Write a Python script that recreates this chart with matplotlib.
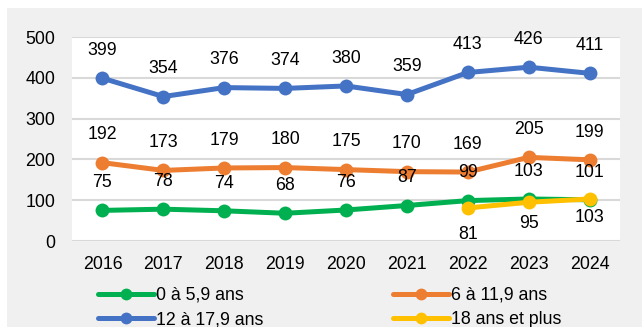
import numpy as np
import matplotlib
matplotlib.use("Agg")
import matplotlib.pyplot as plt
from matplotlib.patches import Rectangle

plt.rcParams['font.family'] = ['Liberation Sans', 'DejaVu Sans']

years = ["2016", "2017", "2018", "2019", "2020", "2021", "2022", "2023", "2024"]
age_0_5 = [75, 78, 74, 68, 76, 87, 99, 103, 101]
age_6_11 = [192, 173, 179, 180, 175, 170, 169, 205, 199]
age_12_17 = [399, 354, 376, 374, 380, 359, 413, 426, 411]
age_18_plus = [np.nan, np.nan, np.nan, np.nan, np.nan, np.nan, 81, 95, 103]
y_ticks = [0, 100, 200, 300, 400, 500]

W, H = 642, 327
fig = plt.figure(figsize=(W / 100, H / 100), dpi=100)
fig.patch.set_facecolor("white")
# light grey chart area
fig.add_artist(Rectangle((7 / W, 0), (W - 7) / W, (H - 8) / H,
                         transform=fig.transFigure, facecolor="#f0f0f0",
                         edgecolor="none", zorder=0))

ax = fig.add_axes([72 / W, (H - 241) / H, (620 - 72) / W, (241 - 37) / H])
ax.set_facecolor("white")
ax.set_zorder(1)

x = np.arange(len(years))
fs = 12.8
lw = 3.6
ms = 10

series = [
    ("0 à 5,9 ans", age_0_5, "#00b050", "above"),
    ("6 à 11,9 ans", age_6_11, "#ed7d31", "above"),
    ("12 à 17,9 ans", age_12_17, "#4472c4", "above"),
    ("18 ans et plus", age_18_plus, "#ffc000", "below"),
]
below_offsets = [-19, -15, -13]
lines = {}
for name, vals, col, pos in series:
    ln, = ax.plot(x, vals, color=col, lw=lw, marker="o", ms=ms, mew=0,
                  solid_capstyle="round", label=name, zorder=3, clip_on=False)
    lines[name] = ln

# value labels
for name, vals, col, pos in series:
    shown = [i for i, v in enumerate(vals) if not np.isnan(v)]
    for k, i in enumerate(shown):
        v = vals[i]
        off = 20 if pos == "above" else below_offsets[k]
        ax.annotate(f"{int(v)}", (x[i], v), xytext=(0, off),
                    textcoords="offset points", ha="center", va="center",
                    fontsize=fs, color="#000000", zorder=4, annotation_clip=False)

ax.set_xlim(-0.5, len(years) - 0.5)
ax.set_ylim(0, 500)
ax.set_yticks(y_ticks)
ax.set_xticks(x)
ax.set_xticklabels(years)
ax.tick_params(axis="both", length=0, labelsize=fs, colors="#000000")
ax.tick_params(axis="y", pad=12)
ax.tick_params(axis="x", pad=11)
for s in ax.spines.values():
    s.set_visible(False)
ax.grid(axis="y", color="#d9d9d9", lw=1.5, zorder=0)
ax.set_axisbelow(True)

handles = [lines["0 à 5,9 ans"], lines["12 à 17,9 ans"],
           lines["6 à 11,9 ans"], lines["18 ans et plus"]]
leg = fig.legend(handles, [h.get_label() for h in handles], ncol=2,
                 loc="upper left", bbox_to_anchor=(98 / W, 1 - 287 / H),
                 frameon=False, fontsize=fs, handlelength=3.15,
                 handletextpad=0.12, columnspacing=7.3, labelspacing=0.42,
                 borderpad=0, borderaxespad=0, markerscale=0.85)

fig.savefig("out.png", dpi=100, facecolor=fig.get_facecolor())
